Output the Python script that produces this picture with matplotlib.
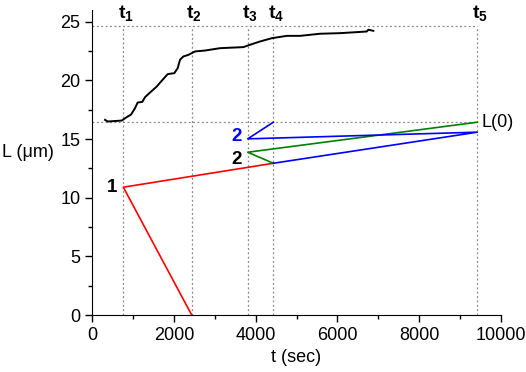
import numpy as np
import matplotlib.pyplot as plt
from matplotlib.ticker import MultipleLocator

plt.rcParams['font.family'] = ['Liberation Sans', 'DejaVu Sans']
plt.rcParams['mathtext.fontset'] = 'custom'
plt.rcParams['mathtext.rm'] = 'Liberation Sans'
plt.rcParams['mathtext.bf'] = 'Liberation Sans:bold'
plt.rcParams['mathtext.it'] = 'Liberation Sans:italic'

# measured length vs time
t_meas = [311, 377, 720, 842, 948, 1046, 1111, 1224, 1290, 1413, 1577, 1699, 1846,
          2008, 2091, 2147, 2228, 2351, 2515, 2760, 3127, 3698, 3861, 4106, 4393,
          4760, 5086, 5575, 6065, 6719, 6758, 6881]
L_meas = [16.64, 16.5, 16.58, 16.87, 17.09, 17.64, 18.12, 18.17, 18.57, 18.97, 19.48,
          19.97, 20.54, 20.62, 21.05, 21.76, 22.04, 22.18, 22.47, 22.55, 22.75, 22.84,
          23.04, 23.32, 23.6, 23.8, 23.8, 23.98, 24.03, 24.17, 24.32, 24.23]

# characteristic times
t_marks = [759, 2434, 3805, 4432, 9427]
t_names = ['1', '2', '3', '4', '5']
L_top = 24.68
L0 = 16.44

# construction lines
red_t = [2434, 759, 4432]
red_L = [0, 10.9, 12.94]
green_t = [4432, 3805, 9427]
green_L = [12.94, 13.88, 16.44]
blue_t = [4432, 9427, 3805, 4432]
blue_L = [12.94, 15.59, 15.02, 16.44]

fig = plt.figure(figsize=(5.26, 3.72), dpi=100)
ax = fig.add_axes([0.1755, 0.153, 0.7765, 0.82])

for tm in t_marks:
    ax.axvline(tm, ymax=L_top / 26, color='#888888', ls=(0, (1.5, 2)), lw=0.9, zorder=1)
ax.plot([0, t_marks[-1]], [L_top, L_top], color='#888888', ls=(0, (1.5, 2)), lw=0.9, zorder=1)
ax.plot([0, t_marks[-1]], [L0, L0], color='#888888', ls=(0, (1.5, 2)), lw=0.9, zorder=1)

ax.plot(t_meas, L_meas, color='black', lw=1.4)
ax.plot(red_t, red_L, color='#ff0000', lw=1.2)
ax.plot(green_t, green_L, color='#008000', lw=1.2)
ax.plot(blue_t, blue_L, color='#0000ff', lw=1.2)

for tm, nm in zip(t_marks, t_names):
    ax.text(tm + 60, 25.35, r'$\mathbf{t}_{\mathbf{%s}}$' % nm, ha='center', va='baseline',
            fontsize=14, clip_on=False)

ax.text(620, 10.9, '1', fontsize=13.5, fontweight='bold', ha='right', va='center')
ax.text(3650, 13.3, '2', fontsize=13.5, fontweight='bold', ha='right', va='center')
ax.text(3650, 15.2, '2', fontsize=13.5, fontweight='bold', ha='right', va='center',
        color='#0000ff')
ax.text(9530, 16.44, 'L(0)', fontsize=13, ha='left', va='center')

ax.set_xlim(0, 10000)
ax.set_ylim(0, 26)
ax.xaxis.set_major_locator(MultipleLocator(2000))
ax.xaxis.set_minor_locator(MultipleLocator(1000))
ax.yaxis.set_major_locator(MultipleLocator(5))
ax.yaxis.set_minor_locator(MultipleLocator(2.5))
ax.tick_params(which='major', direction='out', length=5, width=1, labelsize=13)
ax.tick_params(which='minor', direction='out', length=3, width=1)
ax.spines['top'].set_visible(False)
ax.spines['right'].set_visible(False)

ax.set_xlabel('t (sec)', fontsize=13, labelpad=4)
ax.set_ylabel('L (\u03bcm)', fontsize=13, rotation=0, ha='left', va='center')
ax.yaxis.set_label_coords(-0.222, 13.9 / 26)

fig.savefig('out.png', dpi=100)
